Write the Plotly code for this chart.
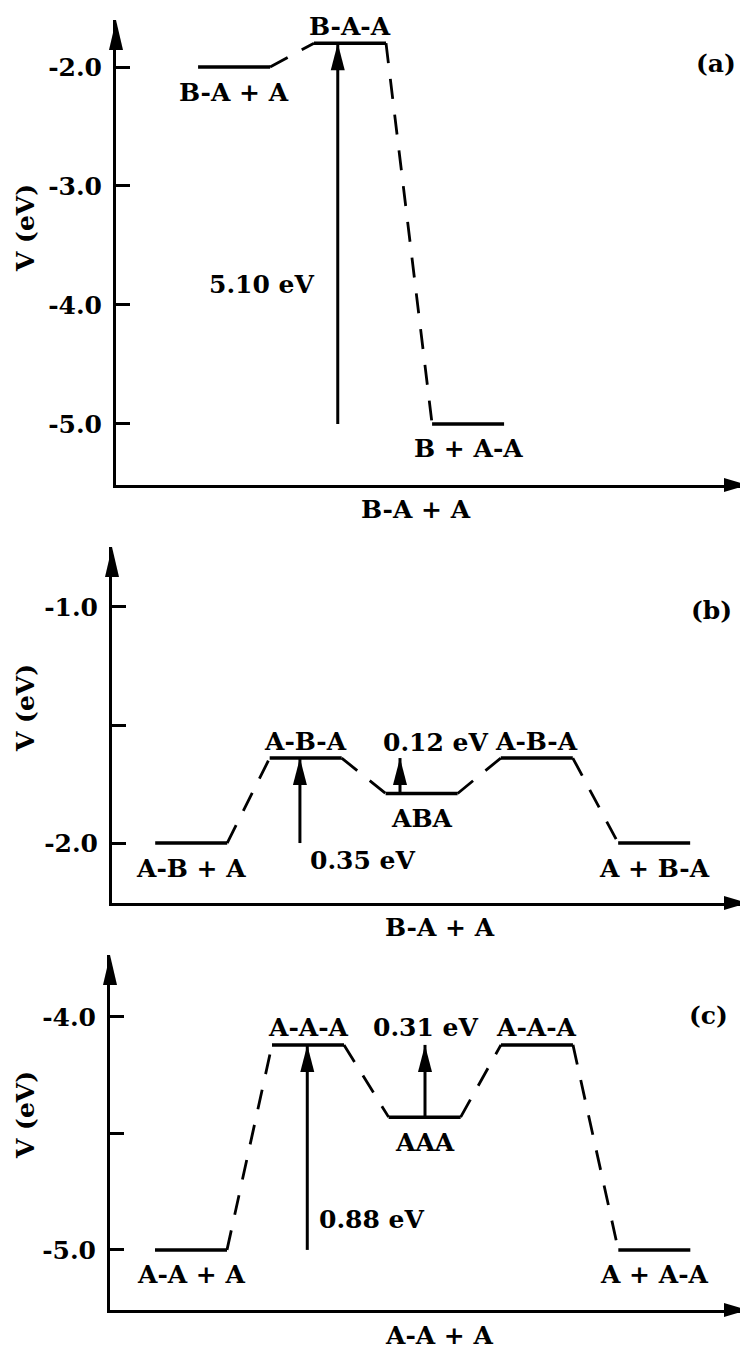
import plotly.graph_objects as go

# ---------------------------------------------------------------------------
# Data: energy levels (eV), level start positions along reaction coordinate
# ---------------------------------------------------------------------------

a_labels = ["B-A + A", "B-A-A", "B + A-A"]
a_energy = [-2.0, -1.80, -5.0]
a_start = [1.14, 2.75, 4.39]
a_label_side = ["below", "above", "below"]

b_labels = ["A-B + A", "A-B-A", "ABA", "A-B-A", "A + B-A"]
b_energy = [-2.0, -1.64, -1.79, -1.64, -2.0]
b_start = [0.6, 2.19, 3.8, 5.4, 7.03]
b_label_side = ["below", "above", "below", "above", "below"]

c_labels = ["A-A + A", "A-A-A", "AAA", "A-A-A", "A + A-A"]
c_energy = [-5.0, -4.12, -4.43, -4.12, -5.0]
c_start = [0.625, 2.25, 3.87, 5.43, 7.06]
c_label_side = ["below", "above", "below", "above", "below"]

LEVEL_WIDTH = 1.0

# barrier arrows: (x, from level index, to level index, text)
a_arrows = [(3.08, 2, 1, "5.10 eV")]
b_arrows = [(2.61, 0, 1, "0.35 eV"), (4.0, 2, 1, "0.12 eV")]
c_arrows = [(2.74, 0, 1, "0.88 eV"), (4.375, 2, 1, "0.31 eV")]

a_ticks = [-2.0, -3.0, -4.0, -5.0]
a_ticktext = ["-2.0", "-3.0", "-4.0", "-5.0"]
b_ticks = [-1.0, -1.5, -2.0]
b_ticktext = ["-1.0", "", "-2.0"]
c_ticks = [-4.0, -4.5, -5.0]
c_ticktext = ["-4.0", "", "-5.0"]

panel_tags = ["(a)", "(b)", "(c)"]
x_titles = ["B-A + A", "B-A + A", "A-A + A"]
y_title = "V (eV)"

# ---------------------------------------------------------------------------
# Layout geometry (pixel positions in the 748 x 1349 window; the page body
# has an 8px margin, so the figure itself is 740 x 1341)
# ---------------------------------------------------------------------------

OFF = 8
W, H = 740, 1341
FONT = dict(family="DejaVu Serif", size=25, color="black", weight="bold")


def fx(px):
    return (px - OFF) / W


def fy(py):
    return 1 - (py - OFF) / H


PANELS = [
    dict(left=116, top=20, bottom=485, yr=[-5.513, -1.605]),
    dict(left=112, top=547, bottom=903, yr=[-2.254, -0.746]),
    dict(left=110, top=955, bottom=1310, yr=[-5.258, -3.734]),
]
RIGHT = 747
UNIT = 72.0  # px per reaction-coordinate unit

fig = go.Figure()

datasets = [
    (a_labels, a_energy, a_start, a_label_side, a_arrows, a_ticks, a_ticktext),
    (b_labels, b_energy, b_start, b_label_side, b_arrows, b_ticks, b_ticktext),
    (c_labels, c_energy, c_start, c_label_side, c_arrows, c_ticks, c_ticktext),
]

shapes = []
annotations = []

for k, (labels, energy, start, side, arrows, ticks, ticktext) in enumerate(datasets):
    p = PANELS[k]
    n = k + 1
    xa = "x" if n == 1 else f"x{n}"
    ya = "y" if n == 1 else f"y{n}"
    xa_key = "xaxis" if n == 1 else f"xaxis{n}"
    ya_key = "yaxis" if n == 1 else f"yaxis{n}"
    ov_key = f"yaxis{n + 3}"

    xr = [0, (RIGHT - p["left"]) / UNIT]

    fig.layout[xa_key] = dict(
        domain=[fx(p["left"]), fx(RIGHT)], range=xr, anchor=ya,
        showline=True, linewidth=3, linecolor="black",
        showgrid=False, zeroline=False, showticklabels=False, ticks="",
    )
    # labelled axis: inside half of the tick marks
    fig.layout[ya_key] = dict(
        domain=[fy(p["bottom"]), fy(p["top"])], range=p["yr"], anchor=xa,
        showline=True, linewidth=3, linecolor="black",
        showgrid=False, zeroline=False,
        tickvals=ticks, ticktext=ticktext, ticks="inside", ticklen=14,
        tickwidth=3, tickcolor="black", tickfont=FONT, ticklabelstandoff=6,
    )
    # outside half of the tick marks, so they cross the axis
    fig.layout[ov_key] = dict(
        overlaying=ya, anchor=xa, side="left", range=p["yr"],
        showline=False, showgrid=False, zeroline=False, showticklabels=False,
        tickvals=ticks, ticks="outside", ticklen=12, tickwidth=3,
        tickcolor="black",
    )

    # levels
    lx, ly = [], []
    for s, e in zip(start, energy):
        lx += [s, s + LEVEL_WIDTH, None]
        ly += [e, e, None]
    fig.add_trace(go.Scatter(
        x=lx, y=ly, mode="lines", xaxis=xa, yaxis=ya,
        line=dict(color="black", width=3.5), hoverinfo="skip", showlegend=False,
    ))

    # dashed connectors
    cx, cy = [], []
    for i in range(len(energy) - 1):
        cx += [start[i] + LEVEL_WIDTH, start[i + 1], None]
        cy += [energy[i], energy[i + 1], None]
    fig.add_trace(go.Scatter(
        x=cx, y=cy, mode="lines", xaxis=xa, yaxis=ya,
        line=dict(color="black", width=2.8, dash="20px,16px"),
        hoverinfo="skip", showlegend=False,
    ))

    # level labels
    for s, e, lab, sd in zip(start, energy, labels, side):
        annotations.append(dict(
            x=s + LEVEL_WIDTH / 2, y=e, xref=xa, yref=ya, text=lab,
            showarrow=False, font=FONT, xanchor="center", yanchor="middle",
            yshift=17 if sd == "above" else -25,
        ))

    # barrier arrows
    for ax_, i0, i1, txt in arrows:
        fig.add_trace(go.Scatter(
            x=[ax_, ax_], y=[energy[i0], energy[i1]], mode="lines",
            xaxis=xa, yaxis=ya, line=dict(color="black", width=3),
            hoverinfo="skip", showlegend=False,
        ))
        shapes.append(dict(
            type="path", xref=xa, yref=ya, xsizemode="pixel", ysizemode="pixel",
            xanchor=ax_, yanchor=energy[i1], path="M0,0 L-7,-27 L7,-27 Z",
            fillcolor="black", line=dict(width=0), layer="above",
        ))

    # axis arrowheads
    shapes.append(dict(
        type="path", xref=f"{xa} domain", yref=f"{ya} domain",
        xsizemode="pixel", ysizemode="pixel", xanchor=0, yanchor=1,
        path="M0,0 L-7,-30 L7,-30 Z", fillcolor="black", line=dict(width=0),
    ))
    shapes.append(dict(
        type="path", xref=f"{xa} domain", yref=f"{ya} domain",
        xsizemode="pixel", ysizemode="pixel", xanchor=1, yanchor=0,
        path="M0,0 L-23,7 L-23,-7 Z", fillcolor="black", line=dict(width=0),
    ))

# barrier text labels
mid = dict(showarrow=False, font=FONT, yanchor="middle")
annotations += [
    dict(x=a_arrows[0][0], y=-3.83, xref="x", yref="y", text=a_arrows[0][3],
         xanchor="right", xshift=-22, **mid),
    dict(x=b_arrows[0][0], y=b_energy[0], xref="x2", yref="y2", text=b_arrows[0][3],
         xanchor="left", xshift=8, yshift=-17, **mid),
    dict(x=b_arrows[1][0], y=b_energy[1], xref="x2", yref="y2", text=b_arrows[1][3],
         xanchor="center", xshift=35, yshift=16, **mid),
    dict(x=c_arrows[0][0], y=-4.87, xref="x3", yref="y3", text=c_arrows[0][3],
         xanchor="left", xshift=10, **mid),
    dict(x=c_arrows[1][0], y=c_energy[1], xref="x3", yref="y3", text=c_arrows[1][3],
         xanchor="center", yshift=17, **mid),
]

# panel tags, axis titles
tag_pos = [(716, 63), (711, 610), (708, 1015)]
xt_pos = [(416, 510), (440, 927), (439, 1335)]
yt_pos = [(25, 228), (25, 708), (25, 1115)]
for k in range(3):
    for (px, py), txt, ang in [(tag_pos[k], panel_tags[k], 0),
                               (xt_pos[k], x_titles[k], 0),
                               (yt_pos[k], y_title, -90)]:
        annotations.append(dict(
            x=fx(px), y=fy(py), xref="paper", yref="paper", text=txt,
            showarrow=False, font=FONT, xanchor="center", yanchor="middle",
            textangle=ang,
        ))

fig.update_layout(
    width=W, height=H,
    margin=dict(l=0, r=0, t=0, b=0),
    paper_bgcolor="white", plot_bgcolor="white",
    showlegend=False,
    shapes=shapes, annotations=annotations,
)

fig.write_html("out.html")
